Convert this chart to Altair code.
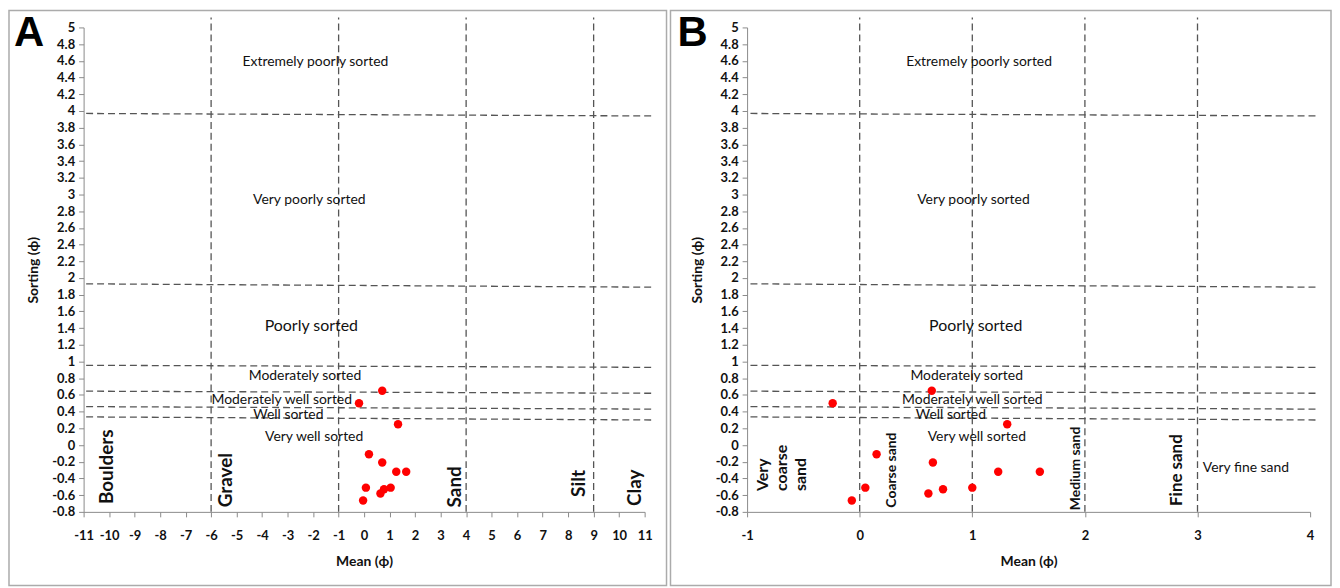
import altair as alt
import pandas as pd

FONT = "Lato, 'Open Sans', sans-serif"
LETTER_FONT = "'Liberation Sans Narrow', 'Liberation Sans', sans-serif"

# ---------------- data ----------------
a_mean = [0.71, -0.20, 1.33, 0.19, 0.71, 1.26, 1.65, 0.07, 1.04, 0.78, 0.64, -0.04]
b_mean = [0.64, -0.24, 1.31, 0.15, 0.65, 1.23, 1.60, 0.05, 1.00, 0.74, 0.61, -0.07]
sorting = [0.65, 0.50, 0.25, -0.11, -0.21, -0.32, -0.32, -0.51, -0.51, -0.53, -0.58, -0.665]

y_ticks = [5, 4.8, 4.6, 4.4, 4.2, 4, 3.8, 3.6, 3.4, 3.2, 3, 2.8, 2.6, 2.4, 2.2, 2,
           1.8, 1.6, 1.4, 1.2, 1, 0.8, 0.6, 0.4, 0.2, 0, -0.2, -0.4, -0.6, -0.8]
a_x_ticks = [-11, -10, -9, -8, -7, -6, -5, -4, -3, -2, -1, 0, 1, 2, 3, 4, 5, 6, 7, 8, 9, 10, 11]
b_x_ticks = [-1, 0, 1, 2, 3, 4]

# sorting class boundaries (hand-drawn, slightly sloping)
hline_y_left = [3.97, 1.93, 0.955, 0.645, 0.46, 0.337]
hline_y_right = [3.94, 1.89, 0.93, 0.62, 0.43, 0.30]
a_hline_x = [-10.9, 11.35]
b_hline_x = [-0.97, 4.07]

# grain size boundaries
a_vlines = [-6, -1, 4, 9]
b_vlines = [0, 1, 2, 3]
vline_y = [-0.8, 5.12]

# sorting class labels
sort_labels = ["Extremely poorly sorted", "Very poorly sorted", "Moderately sorted",
               "Moderately well sorted", "Well sorted", "Very well sorted"]
sort_label_y = [4.58, 2.93, 0.83, 0.535, 0.365, 0.10]
a_sort_label_x = [-1.91, -2.15, -2.32, -3.23, -2.97, -1.96]
b_sort_label_x = [1.06, 1.01, 0.95, 1.00, 0.81, 1.04]
poorly_label = "Poorly sorted"
poorly_y = 1.43
a_poorly_x = -2.07
b_poorly_x = 1.03

# grain size class labels
a_size_labels = ["Boulders", "Gravel", "Sand", "Silt", "Clay"]
a_size_x = [-10.07, -5.41, 3.56, 8.42, 10.62]
a_size_y = [-0.26, -0.42, -0.50, -0.46, -0.51]

b_size_labels = ["Coarse sand", "Medium sand", "Fine sand"]
b_size_x = [0.29, 1.92, 2.82]
b_size_y = [-0.30, -0.28, -0.30]
b_size_fs = [14, 14, 17]
b_vcs_label = "Very\ncoarse\nsand"
b_vcs_x = -0.855
b_vcs_y = -0.55
b_vfs_label = "Very fine sand"
b_vfs_x = 3.43
b_vfs_y = -0.27

H = 487
Y_SCALE = alt.Scale(domain=[-0.8, 5], nice=False, zero=False)

def axis_common(values, title):
    return dict(values=values, title=title, grid=False, labelExpr="'' + datum.value",
                labelOverlap=False, labelFlush=False,
                domainColor="#8a8a8a", tickColor="#8a8a8a", tickSize=5,
                labelFont=FONT, labelFontWeight="bold", labelFontSize=13, labelColor="#111",
                titleFont=FONT, titleFontWeight="bold", titleFontSize=14, titleColor="#111")


def panel(mean, xdomain, xticks, width, hx, vlines, sort_x, poorly_x, letter,
          frame_left, frame_right):
    xs = alt.Scale(domain=xdomain, nice=False, zero=False)
    xa = alt.Axis(labelPadding=13, titlePadding=12, **axis_common(xticks, "Mean (ϕ)"))
    ya = alt.Axis(labelPadding=4, titlePadding=11, **axis_common(y_ticks, "Sorting (ϕ)"))

    def X(f):
        return alt.X(f, type="quantitative", scale=xs, axis=xa)

    def Y(f):
        return alt.Y(f, type="quantitative", scale=Y_SCALE, axis=ya)

    frame = alt.Chart(pd.DataFrame({"k": [0]})).mark_rect(
        fillOpacity=0, stroke="#ababab", strokeWidth=1.5
    ).encode(x=alt.value(frame_left), x2=alt.value(frame_right),
             y=alt.value(-17), y2=alt.value(561))

    hdf = pd.DataFrame({"xl": [hx[0]] * len(hline_y_left), "xr": [hx[1]] * len(hline_y_left),
                        "yl": hline_y_left, "yr": hline_y_right})
    hl = alt.Chart(hdf).mark_rule(color="#555555", strokeWidth=1.3, strokeDash=[7, 4]).encode(
        x=X("xl"), x2="xr", y=Y("yl"), y2="yr")

    vdf = pd.DataFrame({"v": vlines, "y1": [vline_y[0]] * len(vlines), "y2": [vline_y[1]] * len(vlines)})
    vl = alt.Chart(vdf).mark_rule(color="#555555", strokeWidth=1.3, strokeDash=[7, 4]).encode(
        x=X("v"), y=Y("y1"), y2="y2")

    sdf = pd.DataFrame({"label": sort_labels, "x": sort_x, "y": sort_label_y})
    st = alt.Chart(sdf).mark_text(font=FONT, fontSize=14, color="#111").encode(
        x=X("x"), y=Y("y"), text="label")

    pdf = pd.DataFrame({"label": [poorly_label], "x": [poorly_x], "y": [poorly_y]})
    pt = alt.Chart(pdf).mark_text(font=FONT, fontSize=16, color="#111").encode(
        x=X("x"), y=Y("y"), text="label")

    ddf = pd.DataFrame({"mean": mean, "sorting": sorting})
    dots = alt.Chart(ddf).mark_circle(color="#ff0000", opacity=1, size=72).encode(
        x=X("mean"), y=Y("sorting"))

    let = alt.Chart(pd.DataFrame({"k": [0]})).mark_text(
        text=letter, font=LETTER_FONT, fontWeight="bold", fontSize=42, align="left",
        baseline="alphabetic", color="#000"
    ).encode(x=alt.value(-70), y=alt.value(19))

    return [frame, hl, vl, st, pt, dots, let], X, Y


layers_a, XA, YA = panel(a_mean, [-11, 11], a_x_ticks, 564, a_hline_x, a_vlines,
                         a_sort_label_x, a_poorly_x, "A", -75, 586)
adf = pd.DataFrame({"label": a_size_labels, "x": a_size_x, "y": a_size_y})
a_size = alt.Chart(adf).mark_text(font=FONT, fontSize=19, fontWeight="bold", angle=270,
                                  color="#111").encode(x=XA("x"), y=YA("y"), text="label")
chart_a = alt.layer(*layers_a, a_size).properties(width=564, height=H)

layers_b, XB, YB = panel(b_mean, [-1, 4], b_x_ticks, 566, b_hline_x, b_vlines,
                         b_sort_label_x, b_poorly_x, "B", -77, 587)
b_text_layers = []
for lab, x, y, fs in zip(b_size_labels, b_size_x, b_size_y, b_size_fs):
    d = pd.DataFrame({"label": [lab], "x": [x], "y": [y]})
    b_text_layers.append(
        alt.Chart(d).mark_text(font=FONT, fontSize=fs, fontWeight="bold", angle=270,
                               color="#111").encode(x=XB("x"), y=YB("y"), text="label"))
vcs = alt.Chart(pd.DataFrame({"label": [b_vcs_label], "x": [b_vcs_x], "y": [b_vcs_y]})).mark_text(
    font=FONT, fontSize=16, fontWeight="bold", angle=270, align="left", baseline="middle",
    lineBreak="\n", lineHeight=19, color="#111").encode(x=XB("x"), y=YB("y"), text="label")
vfs = alt.Chart(pd.DataFrame({"label": [b_vfs_label], "x": [b_vfs_x], "y": [b_vfs_y]})).mark_text(
    font=FONT, fontSize=14, color="#111").encode(x=XB("x"), y=YB("y"), text="label")
chart_b = alt.layer(*layers_b, *b_text_layers, vcs, vfs).properties(width=566, height=H)

chart = alt.hconcat(chart_a, chart_b, spacing=103, bounds="flush").properties(
    padding=0
).configure_view(stroke=None)

chart.save("out.html", embed_options={"renderer": "svg", "actions": False})
